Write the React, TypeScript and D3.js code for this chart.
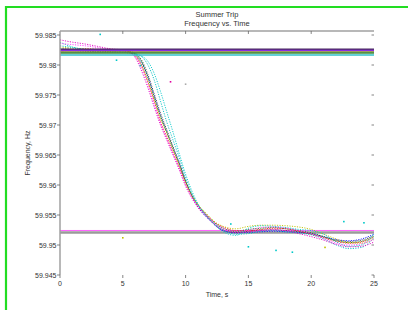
import React from "react";
import * as d3 from "d3";

const times = [0, 1, 2, 3, 4, 5, 5.5, 6, 6.5, 7, 7.5, 8, 8.5, 9, 9.5, 10, 10.5, 11, 11.5, 12, 12.5, 13, 14, 15, 16, 17, 18, 19, 20, 21, 22, 23, 24, 25];

const magenta = [59.9842, 59.9838, 59.9835, 59.9831, 59.9827, 59.9825, 59.9822, 59.9812, 59.979, 59.9762, 59.973, 59.97, 59.9675, 59.965, 59.9625, 59.9598, 59.9578, 59.9562, 59.955, 59.954, 59.9531, 59.9526, 59.9521, 59.9522, 59.9524, 59.9526, 59.9524, 59.9519, 59.9514, 59.9508, 59.9501, 59.9497, 59.9498, 59.9505];
const cyan = [59.9838, 59.983, 59.9826, 59.9824, 59.9823, 59.9822, 59.9821, 59.9819, 59.9814, 59.98, 59.9775, 59.974, 59.9705, 59.9675, 59.9645, 59.9612, 59.9585, 59.9566, 59.9552, 59.9541, 59.9532, 59.9525, 59.9518, 59.9519, 59.9523, 59.9524, 59.9522, 59.952, 59.9517, 59.951, 59.95, 59.9494, 59.9496, 59.9512];
const yellow = [59.983, 59.9828, 59.9827, 59.9826, 59.9826, 59.9825, 59.9823, 59.9817, 59.98, 59.9772, 59.9742, 59.9712, 59.9686, 59.966, 59.9632, 59.9604, 59.9582, 59.9567, 59.9556, 59.9545, 59.9536, 59.9531, 59.9527, 59.9531, 59.9533, 59.9533, 59.9532, 59.953, 59.9526, 59.9518, 59.951, 59.9504, 59.9503, 59.951];
const red = [59.9826, 59.9826, 59.9827, 59.9826, 59.9826, 59.9825, 59.9822, 59.9815, 59.9798, 59.9772, 59.974, 59.9706, 59.968, 59.9655, 59.963, 59.9603, 59.9581, 59.9564, 59.9553, 59.9543, 59.9535, 59.953, 59.9524, 59.9524, 59.9526, 59.9528, 59.9527, 59.9523, 59.9518, 59.9512, 59.9506, 59.9503, 59.9505, 59.9513];
const blue = [59.9824, 59.9824, 59.9823, 59.9823, 59.9824, 59.9823, 59.9822, 59.9817, 59.9803, 59.978, 59.9748, 59.9716, 59.9688, 59.9662, 59.9636, 59.9606, 59.9582, 59.9563, 59.955, 59.954, 59.953, 59.9524, 59.952, 59.9521, 59.9522, 59.9523, 59.9522, 59.9521, 59.9519, 59.9514, 59.9509, 59.9507, 59.951, 59.9518];
const black = [59.9823, 59.9825, 59.9824, 59.9822, 59.9823, 59.9824, 59.9823, 59.9819, 59.9808, 59.9784, 59.9752, 59.972, 59.9692, 59.9664, 59.9637, 59.9607, 59.9583, 59.9566, 59.9553, 59.9541, 59.9531, 59.9524, 59.9521, 59.9523, 59.9525, 59.9525, 59.9524, 59.9522, 59.9518, 59.9513, 59.9508, 59.9506, 59.9508, 59.9516];
const green = [59.9827, 59.9826, 59.9824, 59.9825, 59.9823, 59.9824, 59.9822, 59.9818, 59.9806, 59.9779, 59.9746, 59.9714, 59.9688, 59.966, 59.9634, 59.9606, 59.9584, 59.9566, 59.9554, 59.9543, 59.9534, 59.9528, 59.9523, 59.9526, 59.9528, 59.9529, 59.9527, 59.9524, 59.952, 59.9514, 59.9507, 59.9504, 59.9506, 59.9514];
const cyan2 = [59.9832, 59.9829, 59.9825, 59.9822, 59.9821, 59.9821, 59.982, 59.9818, 59.9815, 59.9806, 59.9786, 59.9756, 59.9722, 59.9688, 59.9652, 59.9618, 59.959, 59.9568, 59.9552, 59.954, 59.953, 59.9522, 59.9516, 59.9528, 59.9532, 59.9531, 59.9529, 59.9526, 59.9524, 59.9518, 59.9505, 59.9498, 59.95, 59.9519];
const magenta2 = [59.9836, 59.9834, 59.9832, 59.9829, 59.9826, 59.9824, 59.9821, 59.9814, 59.9796, 59.9768, 59.9735, 59.9704, 59.9678, 59.9652, 59.9628, 59.9601, 59.958, 59.9565, 59.9553, 59.9543, 59.9534, 59.9528, 59.9523, 59.9525, 59.9529, 59.953, 59.9528, 59.9524, 59.9519, 59.9511, 59.9503, 59.95, 59.9502, 59.9509];

const seriesNames = ["black", "blue", "green", "red", "yellow", "cyan2", "cyan", "magenta2", "magenta"];
const seriesValues = [black, blue, green, red, yellow, cyan2, cyan, magenta2, magenta];
const seriesColors = ["#404040", "#0000ff", "#008000", "#ff0000", "#c0c000", "#00c8c8", "#00bfbf", "#ff40ff", "#e000c0"];

const outlierT = [8.8, 3.2, 6.4, 10.0, 18.5, 21.1, 15.0, 4.5, 13.6, 22.6, 24.2, 5.0, 17.2];
const outlierF = [59.9772, 59.9851, 59.9799, 59.9768, 59.9488, 59.9496, 59.9497, 59.9808, 59.9535, 59.9539, 59.9537, 59.9512, 59.9491];
const outlierColors = ["#e000a0", "#00c8c8", "#00c8c8", "#aaaaaa", "#00c8c8", "#c0c000", "#00c8c8", "#00c8c8", "#00c8c8", "#00c8c8", "#00c8c8", "#c0c000", "#00c8c8"];

const refTopValues = [59.98262, 59.98242, 59.98217, 59.982, 59.98167];
const refTopColors = ["#4a2a60", "#8a2be2", "#8c8c2a", "#3a8a3a", "#30c0c8"];
const refBottomValues = [59.95242, 59.95208];
const refBottomColors = ["#ff60ff", "#9a9a9a"];

const yTicks = [59.945, 59.95, 59.955, 59.96, 59.965, 59.97, 59.975, 59.98, 59.985];
const xTicks = [0, 5, 10, 15, 20, 25];

const App = () => {
  const x = d3.scaleLinear().domain([0, 25]).range([60, 374]);
  const y = d3.scaleLinear().domain([59.945, 59.985]).range([275, 35]);
  const yTop = y(59.98567);

  const line = d3
    .line<number>()
    .x((d, i) => x(times[i]))
    .y((d) => y(d))
    .curve(d3.curveMonotoneX);

  const font = "Arial, 'Liberation Sans', sans-serif";

  return (
    <svg width={408} height={312} style={{ position: "absolute", left: 0, top: 0 }} fontFamily={font}>
      <rect width={408} height={312} fill="#fff" />
      <path d="M6,310 V7 H408" fill="none" stroke="#22dd22" strokeWidth={2.2} />

      <text x={217} y={17} textAnchor="middle" fontSize={7.5} fill="#333">Summer Trip</text>
      <text x={217} y={25.5} textAnchor="middle" fontSize={7.5} fill="#333">Frequency vs. Time</text>

      {refBottomValues.map((v, i) => (
        <line key={"b" + i} x1={x(0)} x2={x(25)} y1={y(v)} y2={y(v)} stroke={refBottomColors[i]} strokeWidth={i === 1 ? 2.4 : 1} />
      ))}

      {seriesValues.map((vals, k) => (
        <path
          key={seriesNames[k]}
          d={line(vals) || ""}
          fill="none"
          stroke={seriesColors[k]}
          strokeWidth={0.9}
          strokeDasharray="1.2 1.3"
        />
      ))}

      {outlierT.map((t, i) => (
        <rect key={i} x={x(t) - 0.8} y={y(outlierF[i]) - 0.8} width={1.6} height={1.6} fill={outlierColors[i]} />
      ))}

      {refTopValues.map((v, i) => (
        <line key={"t" + i} x1={x(0)} x2={x(25)} y1={y(v)} y2={y(v)} stroke={refTopColors[i]} strokeWidth={1.4} />
      ))}

      <line x1={x(0)} x2={x(25)} y1={yTop} y2={yTop} stroke="#a0a0a0" strokeWidth={1.5} />
      <line x1={x(0)} x2={x(0)} y1={yTop} y2={y(59.945)} stroke="#a0a0a0" strokeWidth={1.5} />

      {yTicks.map((v) => (
        <g key={v}>
          <line x1={x(0) - 3} x2={x(0)} y1={y(v)} y2={y(v)} stroke="#666" strokeWidth={0.8} />
          <line x1={x(25) - 2.5} x2={x(25)} y1={y(v)} y2={y(v)} stroke="#666" strokeWidth={0.8} />
          <text x={x(0) - 3.5} y={y(v) + 2.5} textAnchor="end" fontSize={7} fill="#333">
            {d3.format(".3~f")(v)}
          </text>
        </g>
      ))}

      {xTicks.map((t) => (
        <g key={t}>
          <line x1={x(t)} x2={x(t)} y1={y(59.945)} y2={y(59.945) + 3} stroke="#666" strokeWidth={0.8} />
          {t > 0 && t < 25 && <line x1={x(t)} x2={x(t)} y1={yTop} y2={yTop + 3} stroke="#666" strokeWidth={0.8} />}
          <text x={x(t)} y={286} textAnchor="middle" fontSize={7} fill="#333">{t}</text>
        </g>
      ))}

      <text x={217} y={297} textAnchor="middle" fontSize={7} fill="#333">Time, s</text>
      <text transform="translate(30,153) rotate(-90)" textAnchor="middle" fontSize={7} fill="#333">Frequency, Hz</text>
    </svg>
  );
};

export default App;
